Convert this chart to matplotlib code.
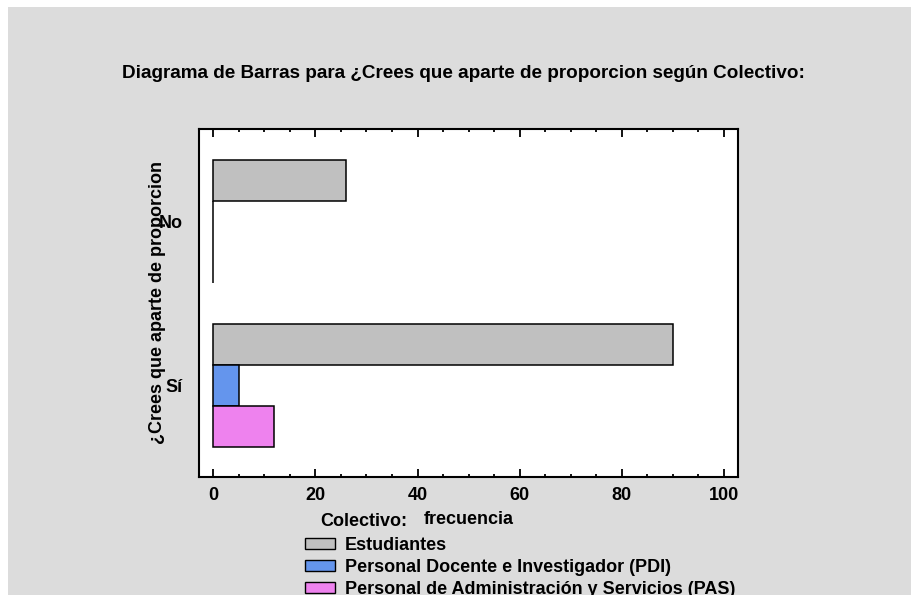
import numpy as np
import matplotlib
matplotlib.use('Agg')
import matplotlib.pyplot as plt
from matplotlib.patches import Rectangle, Patch
from matplotlib.ticker import MultipleLocator

plt.rcParams['font.family'] = ['Liberation Sans', 'DejaVu Sans']
plt.rcParams['font.weight'] = 'bold'

# data
categories = ['No', 'Sí']
groups = ['Estudiantes',
          'Personal Docente e Investigador (PDI)',
          'Personal de Administración y Servicios (PAS)']
estudiantes = [26, 90]
pdi = [0, 5]
pas = [0, 12]
colors = ['#c0c0c0', '#6495ed', '#ee82ee']

title = 'Diagrama de Barras para ¿Crees que aparte de proporcion según Colectivo:'
ylab = '¿Crees que aparte de proporcion'

W, H = 911, 595
fig = plt.figure(figsize=(W / 100, H / 100), dpi=100, facecolor='white')
fig.patches.append(Rectangle((8 / W, 0), 1, 1 - 7 / H, transform=fig.transFigure,
                             facecolor='#dcdcdc', edgecolor='none', zorder=-10))

ax = fig.add_axes([199 / W, 1 - 477 / H, (738.3 - 199) / W, (477 - 129) / H])
ax.set_facecolor('white')

ypos = np.array([1, 0])  # No on top, Sí below
h = 0.25
series = [estudiantes, pdi, pas]
offsets = [h, 0, -h]
for vals, off, col, lab in zip(series, offsets, colors, groups):
    ax.barh(ypos + off, vals, height=h, color=col, edgecolor='black',
            linewidth=1.1, label=lab)

ax.set_xlim(-2.78, 102.8)
ax.set_ylim(-0.558, 1.564)
ax.xaxis.set_major_locator(MultipleLocator(20))
ax.xaxis.set_minor_locator(MultipleLocator(5))
ax.tick_params(axis='x', which='both', direction='in', top=True, bottom=True,
               width=1.3, labelsize=13, pad=7.5)
ax.tick_params(axis='x', which='major', length=5.5)
ax.tick_params(axis='x', which='minor', length=2.5)
ax.set_yticks(ypos)
ax.set_yticklabels(categories)
ax.tick_params(axis='y', which='both', length=0, labelsize=13, pad=11.5)
for s in ax.spines.values():
    s.set_linewidth(1.5)

ax.set_xlabel('frecuencia', fontsize=13, fontweight='bold')
ax.xaxis.set_label_coords(0.5, (477 - 519) / (477 - 129))
ax.xaxis.label.set_va('center')

fig.text(463 / W, 1 - 74 / H, title, ha='center', va='center',
         fontsize=13.6, fontweight='bold')
fig.text(158 / W, 1 - 303 / H, ylab, rotation=90, ha='center', va='center',
         fontsize=13, fontweight='bold')
fig.text(364 / W, 1 - 522 / H, 'Colectivo:', ha='center', va='center',
         fontsize=13, fontweight='bold')

handles = [Patch(facecolor=c, edgecolor='black', linewidth=1.0) for c in colors]
fig.legend(handles, groups, loc='upper left', bbox_to_anchor=(305 / W, 1 - 537 / H),
           frameon=False, borderpad=0, borderaxespad=0, fontsize=13,
           handlelength=1.66, handleheight=0.55, handletextpad=0.55, labelspacing=0.28)

fig.savefig('out.png', dpi=100, facecolor=fig.get_facecolor())
